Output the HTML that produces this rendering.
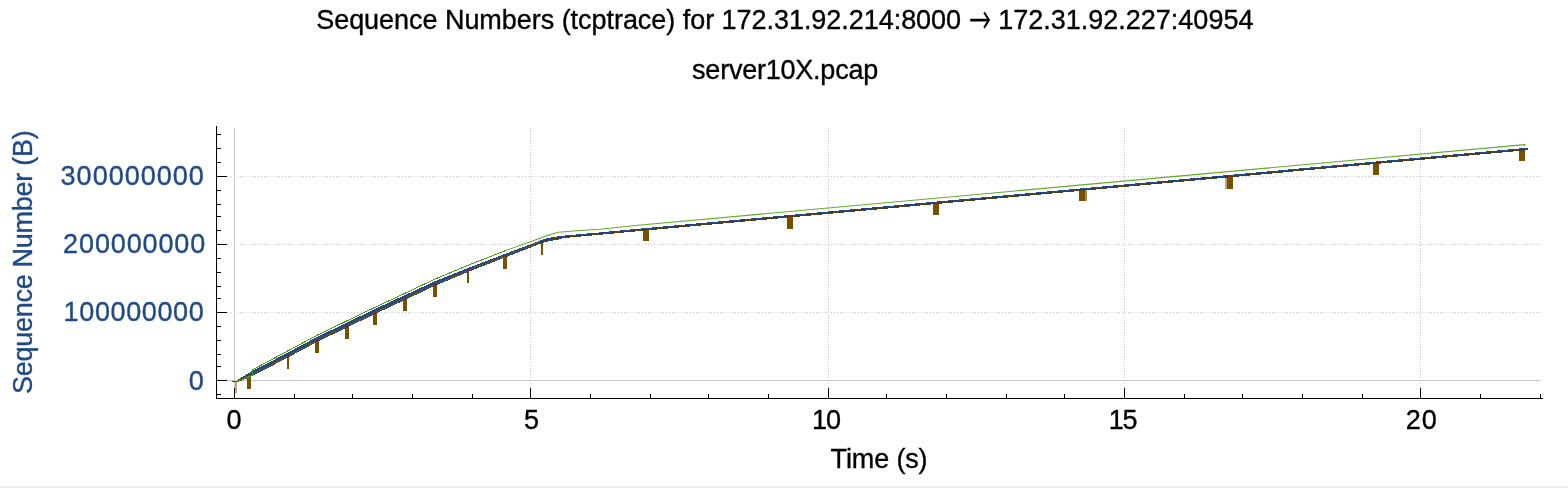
<!DOCTYPE html>
<html lang="en"><head><meta charset="utf-8"><title>Sequence Numbers (tcptrace)</title>
<style>
html,body{margin:0;padding:0;background:#fff;}
body{width:1568px;height:488px;position:relative;overflow:hidden;font-family:"Liberation Sans",sans-serif;font-size:27px;color:#000;}
.t{position:absolute;white-space:nowrap;line-height:1;-webkit-text-stroke:0.35px currentColor;}
.b{color:#204a87;}
.strip{position:absolute;left:0;top:486px;width:1568px;height:2px;background:#ececec;}
</style></head>
<body>
<svg width="1568" height="488" viewBox="0 0 1568 488" style="position:absolute;left:0;top:0">
<g shape-rendering="crispEdges" stroke="#c8c8c8" stroke-width="1" fill="none">
<line x1="216" y1="176.5" x2="1541" y2="176.5" stroke-dasharray="1 2"/>
<line x1="216" y1="244.5" x2="1541" y2="244.5" stroke-dasharray="1 2"/>
<line x1="216" y1="312.5" x2="1541" y2="312.5" stroke-dasharray="1 2"/>
<line x1="530.5" y1="128" x2="530.5" y2="398" stroke-dasharray="1 2"/>
<line x1="828.5" y1="128" x2="828.5" y2="398" stroke-dasharray="1 2"/>
<line x1="1124.5" y1="128" x2="1124.5" y2="398" stroke-dasharray="1 2"/>
<line x1="1420.5" y1="128" x2="1420.5" y2="398" stroke-dasharray="1 2"/>
<line x1="217" y1="380.5" x2="1541" y2="380.5"/>
<line x1="234.5" y1="128" x2="234.5" y2="398"/>
</g>
<g fill="none" stroke-linejoin="round">
<rect x="235" y="381" width="2" height="12" fill="#b9a77f" shape-rendering="crispEdges"/>
<g shape-rendering="crispEdges" fill="#785100" stroke="none">
<rect x="247" y="376.5" width="4" height="12.3"/>
<rect x="287" y="356.5" width="2" height="12.3"/>
<rect x="315" y="341.0" width="4" height="12.3"/>
<rect x="345" y="326.5" width="4" height="12.3"/>
<rect x="373" y="313.0" width="4" height="12.3"/>
<rect x="403" y="299.0" width="4" height="12.3"/>
<rect x="433" y="284.8" width="4" height="12.3"/>
<rect x="467" y="271.0" width="2" height="12.3"/>
<rect x="503" y="256.5" width="4" height="12.3"/>
<rect x="541" y="242.2" width="2" height="12.3"/>
<rect x="643" y="229" width="6" height="12"/>
<rect x="787" y="216" width="6" height="13"/>
<rect x="933" y="202" width="6" height="13"/>
<rect x="1079" y="189" width="8" height="12"/>
<rect x="1225" y="176" width="8" height="13"/>
<rect x="1373" y="162" width="6" height="13"/>
<rect x="1519" y="149" width="6" height="12"/>
</g>
<rect x="1085" y="189" width="2" height="12" fill="#a08a4a" shape-rendering="crispEdges"/>
<rect x="1225" y="176" width="2" height="13" fill="#b9a77f" shape-rendering="crispEdges"/>
<polygon shape-rendering="crispEdges" points="232.00,381.00 236.00,381.00 240.00,378.18 244.00,375.85 248.00,373.52 252.00,371.20 288.00,352.50 317.00,337.00 347.00,322.50 375.00,309.00 400.00,297.33 405.00,295.07 435.00,281.25 468.00,267.97 470.00,267.22 505.00,253.90 540.00,240.70 546.00,238.70 552.00,237.40 558.00,236.45 565.00,235.60 576.00,234.60 600.00,232.50 638.00,228.90 646.00,228.20 646.00,230.40 638.00,231.10 600.00,234.70 576.00,236.80 565.00,237.80 558.00,239.65 552.00,240.60 546.00,241.90 540.00,243.90 505.00,257.50 470.00,271.22 468.00,272.00 435.00,285.75 405.00,300.00 400.00,302.33 375.00,314.00 347.00,327.50 317.00,342.00 288.00,357.50 252.00,376.20 248.00,377.90 244.00,379.60 240.00,381.30 236.00,382.00 232.00,382.00" fill="#204a87"/>
<polyline shape-rendering="crispEdges" points="236.00,381.50 252.00,374.70 288.00,356.00 317.00,340.50 347.00,326.00 375.00,312.50 405.00,298.50 435.00,284.25 468.00,270.50 505.00,256.00 540.00,242.40" stroke="#785100" stroke-width="1"/>
<polyline shape-rendering="crispEdges" points="540.00,241.25 546.00,239.25 552.00,237.95 558.00,237.00 565.00,236.15 576.00,235.15 600.00,233.05 638.00,229.45 646.00,228.75 1528.00,148.35" stroke="#204a87" stroke-width="1.35"/>
<polyline shape-rendering="crispEdges" points="540.00,242.40 546.00,240.40 552.00,239.10 558.00,238.15 565.00,237.30 576.00,236.30 600.00,234.20 638.00,230.60 646.00,229.90 1528.00,149.50" stroke="#4a401e" stroke-width="1.25"/>
<polyline shape-rendering="crispEdges" points="236.00,381.50 244.00,379.00 252.00,375.50 252.50,369.80 288.00,350.80 317.00,335.30 347.00,320.80 375.00,307.30 405.00,293.30 435.00,279.05 468.00,265.30 505.00,250.80" stroke="#4e9a06" stroke-width="1"/>
<polyline points="505.00,250.80 540.00,238.20 546.00,235.90 558.00,232.30 565.00,231.70 576.00,230.75 600.00,229.30 638.00,225.30 1524.70,144.60" stroke="#4e9a06" stroke-width="1.1" opacity="0.85"/>
<rect x="1524" y="144" width="1.5" height="1.5" fill="#4e9a06"/>
<g shape-rendering="crispEdges" fill="#cc0000">
<rect x="287" y="355.0" width="2" height="2"/>
<rect x="316" y="339.5" width="2" height="2"/>
<rect x="346" y="325.0" width="2" height="2"/>
<rect x="374" y="311.5" width="2" height="2"/>
<rect x="404" y="297.5" width="2" height="2"/>
<rect x="434" y="283.2" width="2" height="2"/>
<rect x="467" y="269.5" width="3" height="1"/>
<rect x="504" y="255.0" width="3" height="1"/>
<rect x="541" y="240.7" width="3" height="1"/>
<rect x="790" y="216" width="2" height="1"/>
<rect x="936" y="202" width="2" height="1"/>
<rect x="1084" y="189" width="2" height="1"/>
<rect x="1230" y="176" width="2" height="1"/>
<rect x="1376" y="162" width="2" height="1"/>
</g>
</g>
<g shape-rendering="crispEdges" fill="#000">
<rect x="216" y="126" width="1" height="273"/>
<rect x="216" y="398" width="1327" height="1"/>
<rect x="217" y="176" width="10" height="1"/>
<rect x="217" y="244" width="10" height="1"/>
<rect x="217" y="312" width="10" height="1"/>
<rect x="217" y="380" width="10" height="1"/>
<rect x="217" y="134" width="4" height="1"/>
<rect x="217" y="148" width="4" height="1"/>
<rect x="217" y="162" width="4" height="1"/>
<rect x="217" y="190" width="4" height="1"/>
<rect x="217" y="204" width="4" height="1"/>
<rect x="217" y="216" width="4" height="1"/>
<rect x="217" y="230" width="4" height="1"/>
<rect x="217" y="258" width="4" height="1"/>
<rect x="217" y="272" width="4" height="1"/>
<rect x="217" y="286" width="4" height="1"/>
<rect x="217" y="298" width="4" height="1"/>
<rect x="217" y="326" width="4" height="1"/>
<rect x="217" y="340" width="4" height="1"/>
<rect x="217" y="354" width="4" height="1"/>
<rect x="217" y="366" width="4" height="1"/>
<rect x="217" y="394" width="4" height="1"/>
<rect x="234" y="388" width="1" height="10"/>
<rect x="294" y="394" width="1" height="4"/>
<rect x="352" y="394" width="1" height="4"/>
<rect x="412" y="394" width="1" height="4"/>
<rect x="472" y="394" width="1" height="4"/>
<rect x="530" y="388" width="1" height="10"/>
<rect x="590" y="394" width="1" height="4"/>
<rect x="650" y="394" width="1" height="4"/>
<rect x="708" y="394" width="1" height="4"/>
<rect x="768" y="394" width="1" height="4"/>
<rect x="828" y="388" width="1" height="10"/>
<rect x="886" y="394" width="1" height="4"/>
<rect x="946" y="394" width="1" height="4"/>
<rect x="1006" y="394" width="1" height="4"/>
<rect x="1064" y="394" width="1" height="4"/>
<rect x="1124" y="388" width="1" height="10"/>
<rect x="1184" y="394" width="1" height="4"/>
<rect x="1242" y="394" width="1" height="4"/>
<rect x="1302" y="394" width="1" height="4"/>
<rect x="1362" y="394" width="1" height="4"/>
<rect x="1420" y="388" width="1" height="10"/>
<rect x="1480" y="394" width="1" height="4"/>
<rect x="1540" y="394" width="1" height="4"/>
</g>
</svg>
<h1 id="title" style="margin:0;font:inherit"><span class="t " id="t1" style="left:316.20px;top:7px;letter-spacing:-0.041px">Sequence Numbers (tcptrace) for 172.31.92.214:8000 </span><span class="t" id="arrow" style="left:969.00px;top:5.00px;font-family:'DejaVu Sans',sans-serif;transform-origin:0 50%;font-weight:200;transform:scale(0.97,1.5);-webkit-text-stroke:0.45px #000">→ </span><span class="t " id="t3" style="left:998.20px;top:7px;letter-spacing:0.000px">172.31.92.227:40954</span></h1>
<div class="t " id="sub" style="left:692.10px;top:57px;letter-spacing:-0.231px">server10X.pcap</div>
<div class="t " id="time" style="left:830.60px;top:446px;letter-spacing:-0.143px">Time (s)</div>
<div class="t " id="x0" style="left:226.60px;top:407px;letter-spacing:0.000px">0</div>
<div class="t " id="x5" style="left:524.10px;top:407px;letter-spacing:0.000px">5</div>
<div class="t " id="x10" style="left:812.10px;top:407px;letter-spacing:-1.200px">10</div>
<div class="t " id="x15" style="left:1108.80px;top:407px;letter-spacing:-1.400px">15</div>
<div class="t " id="x20" style="left:1405.80px;top:407px;letter-spacing:1.000px">20</div>
<div class="t b" id="y300" style="left:60.60px;top:163px;letter-spacing:1.000px">300000000</div>
<div class="t b" id="y200" style="left:63.10px;top:231px;letter-spacing:0.875px">200000000</div>
<div class="t b" id="y100" style="left:63.60px;top:299px;letter-spacing:0.625px">100000000</div>
<div class="t b" id="y0" style="left:188.80px;top:368px;letter-spacing:0.000px">0</div>
<div class="t b" id="ylab" style="left:10.00px;top:394.00px;transform-origin:0 0;transform:rotate(-90deg);letter-spacing:-0.278px">Sequence Number (B)</div>
<div class="strip"></div>
</body></html>
